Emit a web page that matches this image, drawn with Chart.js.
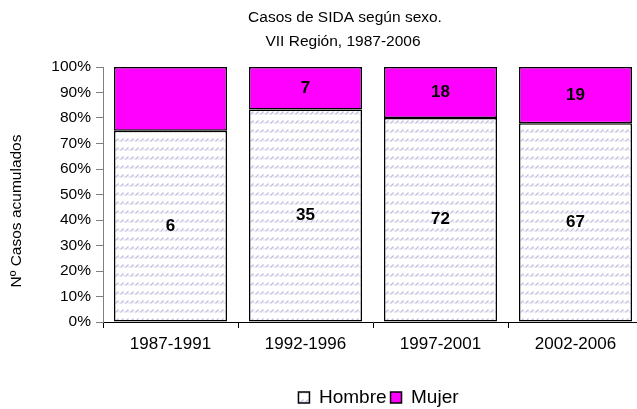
<!DOCTYPE html>
<html>
<head>
<meta charset="utf-8">
<script src="https://cdn.jsdelivr.net/npm/chart.js@4.4.0/dist/chart.umd.min.js"></script>
<style>
html,body{margin:0;padding:0;background:#fff;overflow:hidden;width:637px;height:409px;}
#wrap{position:absolute;left:0;top:0;width:757px;height:417px;}
</style>
</head>
<body>
<div id="wrap"><canvas id="c" width="757" height="417"></canvas></div>
<script>
const categories = ["1987-1991", "1992-1996", "1997-2001", "2002-2006"];
const hombre = [6, 35, 72, 67];
const mujer = [2, 7, 18, 19];
const hombreLabels = ["6", "35", "72", "67"];
const mujerLabels = ["", "7", "18", "19"];
const yTicks = [0, 10, 20, 30, 40, 50, 60, 70, 80, 90, 100];
const titleLines = ["Casos de SIDA según sexo.", "VII Región, 1987-2006"];
const yTitle = "Nº Casos acumulados";

const totals = hombre.map((h, i) => h + mujer[i]);
const hombrePct = hombre.map((h, i) => h / totals[i] * 100);
const mujerPct = mujer.map((m, i) => m / totals[i] * 100);

const FONT = "'Liberation Sans', Arial, sans-serif";

function makePattern() {
  const p = document.createElement('canvas');
  p.width = 5; p.height = 9;
  const g = p.getContext('2d');
  g.fillStyle = '#ffffff';
  g.fillRect(0, 0, 5, 9);
  g.strokeStyle = 'rgba(150,150,200,0.65)';
  g.lineWidth = 1.1;
  g.beginPath();
  g.moveTo(0.5, 6.5);
  g.lineTo(3.5, 3.5);
  g.stroke();
  g.strokeStyle = 'rgba(175,175,215,0.45)';
  g.beginPath();
  g.moveTo(3.5, 6.5);
  g.lineTo(4.5, 5);
  g.stroke();
  return document.getElementById('c').getContext('2d').createPattern(p, 'repeat');
}
const pattern = makePattern();

const labelsPlugin = {
  id: 'segLabels',
  afterDatasetsDraw(chart) {
    const ctx = chart.ctx;
    const sets = [hombreLabels, mujerLabels];
    ctx.save();
    ctx.font = "bold 17px " + FONT;
    ctx.fillStyle = '#000';
    ctx.textAlign = 'center';
    ctx.textBaseline = 'middle';
    chart.data.datasets.forEach((ds, di) => {
      const meta = chart.getDatasetMeta(di);
      meta.data.forEach((el, i) => {
        const t = sets[di][i];
        if (!t) return;
        ctx.fillText(t, el.x, (el.y + el.base) / 2);
      });
    });
    ctx.restore();
  }
};

const textPlugin = {
  id: 'texts',
  afterLayout(chart) {
    const lg = chart.legend;
    if (lg) { lg.left += 57; lg.right += 57; }
  },
  afterDraw(chart) {
    const ctx = chart.ctx;
    ctx.save();
    ctx.fillStyle = '#000';
    ctx.font = "15.5px " + FONT;
    ctx.textAlign = 'center';
    ctx.textBaseline = 'middle';
    ctx.fillText(titleLines[0], 345, 18);
    ctx.fillText(titleLines[1], 343, 42);
    ctx.translate(17, 211);
    ctx.rotate(-Math.PI / 2);
    ctx.fillText(yTitle, 0, 0);
    ctx.restore();
  }
};

new Chart(document.getElementById('c'), {
  type: 'bar',
  data: {
    labels: categories,
    datasets: [
      { label: 'Hombre', data: hombrePct, backgroundColor: pattern, borderColor: '#000', borderWidth: 1.5, borderSkipped: false },
      { label: 'Mujer', data: mujerPct, backgroundColor: '#ff00ff', borderColor: '#000', borderWidth: 1.5, borderSkipped: false }
    ]
  },
  options: {
    responsive: false,
    animation: false,
    events: [],
    layout: { padding: { left: 0, right: 114, top: 67, bottom: 0 } },
    datasets: { bar: { categoryPercentage: 1.0, barPercentage: 0.837 } },
    scales: {
      x: {
        stacked: true,
        offset: true,
        grid: { display: true, offset: true, drawOnChartArea: false, tickLength: 6, color: '#000' },
        border: { display: true, color: '#000', width: 1 },
        ticks: { color: '#000', font: { family: FONT, size: 17 }, padding: 6, maxRotation: 0 },
        afterFit(s) { s.height = 62; }
      },
      y: {
        stacked: true,
        min: 0, max: 100,
        afterBuildTicks(s) { s.ticks = yTicks.map(v => ({ value: v })); },
        grid: { display: true, drawOnChartArea: false, tickLength: 7, color: '#808080' },
        border: { display: true, color: '#808080', width: 1 },
        ticks: { color: '#000', font: { family: FONT, size: 15.5 }, padding: 5, callback: v => v + '%' },
        afterFit(s) { s.width = 103; }
      }
    },
    plugins: {
      title: { display: false },
      tooltip: { enabled: false },
      legend: {
        display: true,
        position: 'bottom',
        labels: { color: '#000', font: { family: FONT, size: 19 }, boxWidth: 11, boxHeight: 11, padding: 4 }
      }
    }
  },
  plugins: [labelsPlugin, textPlugin]
});
</script>
</body>
</html>
